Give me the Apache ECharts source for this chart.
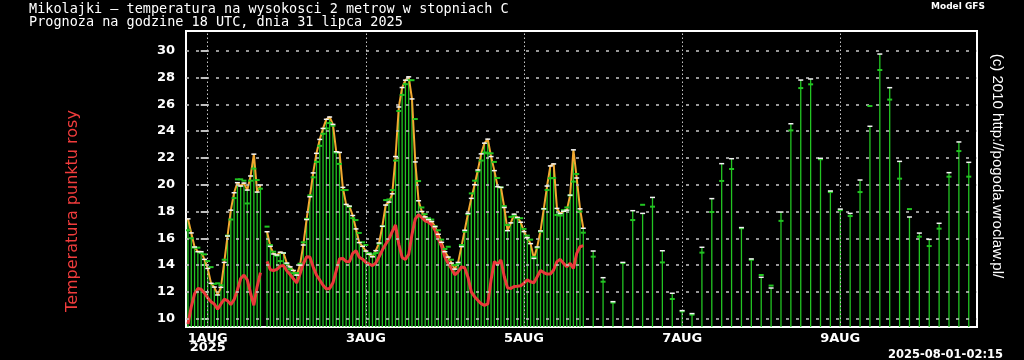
<!DOCTYPE html>
<html><head><meta charset="utf-8">
<script src="https://cdn.jsdelivr.net/npm/echarts@6/dist/echarts.min.js"></script>
<style>html,body{margin:0;padding:0;background:#000}#c{width:1024px;height:360px}</style>
</head><body><div id="c"></div><script>
// hours relative to 1 Aug 2025 00 UTC
const hourStart = -6; // first hourly step (31 Jul 18 UTC)
const tempHourly = [17.45,16.4,15.35,15.0,15.0,14.43,13.75,12.64,12.36,11.77,12.34,14.2,16.17,18.1,19.4,20.15,19.9,20.12,19.6,20.65,22.28,19.45,19.98,null,16.49,15.4,14.83,14.75,14.96,14.9,14.15,13.87,13.6,13.25,14.0,15.5,17.4,19.1,20.88,22.34,23.38,24.2,24.88,25.05,24.5,22.46,22.41,19.8,18.53,18.4,17.7,16.7,15.68,15.4,15.05,14.82,14.62,15.08,15.65,16.9,18.48,18.7,19.32,22.1,25.8,27.25,27.8,28.05,26.4,21.7,18.8,18.0,17.6,17.4,17.25,16.87,16.3,15.7,15.0,14.6,14.15,13.7,14.2,15.38,16.6,17.85,18.98,20.0,21.1,22.3,23.1,23.4,22.1,21.05,19.85,19.8,18.3,16.57,17.15,17.8,17.56,17.2,16.5,16.05,15.6,14.5,15.35,16.55,18.2,19.9,21.4,21.55,18.23,17.85,18.02,18.1,19.22,22.6,20.5,18.2,16.75];
const prevHourly = [16.6,16.0,15.3,15.3,14.9,14.8,14.3,13.85,12.6,12.64,12.5,14.4,16.2,17.4,19.0,20.4,20.4,20.3,18.6,20.3,21.2,20.35,19.7,null,16.87,15.5,15.0,14.7,14.3,14.9,14.1,13.7,13.4,13.4,14.1,15.7,17.45,19.2,20.55,21.7,22.9,23.8,24.2,24.6,24.4,22.4,21.55,19.6,19.6,18.36,17.5,17.36,16.4,15.7,15.5,14.9,14.8,14.9,15.6,16.9,18.85,18.9,19.6,21.8,25.5,26.7,27.5,27.8,27.8,24.9,20.27,18.3,17.8,17.5,17.4,16.9,16.6,15.9,15.2,15.37,14.4,14.0,14.1,15.5,16.5,17.8,19.35,20.3,21.0,21.8,22.4,22.34,22.34,21.7,20.5,19.8,18.4,17.0,17.6,17.7,17.5,17.5,16.7,16.2,15.9,14.6,15.3,16.5,18.2,19.6,20.48,20.5,17.74,17.7,18.1,18.3,19.2,20.23,20.8,18.0,16.42];
const dewHourly = [9.6,10.9,11.85,12.25,12.2,11.92,11.55,11.27,11.1,10.7,11.1,11.45,11.35,11.05,11.42,12.14,13.0,13.26,12.9,11.9,11.0,12.4,13.44,null,14.28,13.65,13.6,13.68,13.92,13.98,13.58,13.3,12.98,12.67,13.33,14.1,14.62,14.6,13.87,13.26,12.89,12.5,12.22,12.25,12.68,13.58,14.48,14.5,14.27,14.25,14.88,15.08,14.58,14.44,14.2,14.08,13.96,14.15,14.62,15.12,15.55,15.95,16.5,17.0,15.55,14.57,14.42,14.8,16.3,17.45,17.76,17.55,17.3,17.2,17.0,16.6,15.95,15.4,14.6,14.12,13.73,13.27,13.5,13.87,13.8,13.1,12.0,11.64,11.37,11.12,11.0,11.1,12.9,14.26,14.05,14.38,13.15,12.3,12.26,12.4,12.42,12.46,12.66,12.9,12.76,12.68,13.13,13.6,13.44,13.33,13.33,13.63,14.26,14.43,14.13,13.88,14.13,13.76,14.88,15.37,15.45];
const hours3 = [117,120,123,126,129,132,135,138,141,144,147,150,153,156,159,162,165,168,171,174,177,180,183,186,189,192,195,198,201,204,207,210,213,216,219,222,225,228,231];
const temp3 = [15.05,13.06,11.27,14.2,18.06,17.86,19.05,15.07,11.9,10.6,10.38,15.33,18.96,21.57,21.94,16.8,14.46,13.09,12.29,17.96,24.55,27.81,27.89,21.97,19.53,18.18,17.86,20.35,24.36,29.75,27.24,21.74,17.59,16.39,15.92,17.12,20.9,23.19,21.67];
const prev3 = [14.63,12.76,11.2,14.15,17.36,18.5,18.36,14.2,11.47,10.55,10.3,14.93,17.96,20.28,21.17,16.75,14.4,13.26,12.47,17.3,24.05,27.21,27.49,21.9,19.45,18.1,17.66,19.45,25.87,28.56,26.35,20.45,18.18,16.12,15.42,16.72,20.6,22.51,20.6];
const yTicks = [10,12,14,16,18,20,22,24,26,28,30];
const dayTicks = [0,48,96,144,192];
const dayLabels = ['1AUG\n2025','3AUG','5AUG','7AUG','9AUG'];

const Y_MIN = 9.38, Y_MAX = 31.47;
const tempLine = tempHourly.map((v,i)=>[hourStart+i, v==null?'-':v]);
const dewLine = dewHourly.map((v,i)=>[hourStart+i, v==null?'-':v]);
const allT = tempLine.filter(d=>d[1]!=='-').concat(hours3.map((h,i)=>[h,temp3[i]]));
const prevPts = prevHourly.map((v,i)=>[hourStart+i,v]).filter(d=>d[1]!=null)
  .concat(hours3.map((h,i)=>[h,prev3[i]]));

const chart = echarts.init(document.getElementById('c'), null, {renderer:'canvas'});
chart.setOption({
  backgroundColor:'#000',
  animation:false,
  grid:{left:186,right:47,top:31,bottom:33,show:true,borderColor:'#fff',borderWidth:2,backgroundColor:'transparent'},
  xAxis:{type:'value',min:-6.6,max:233.5,
    axisLine:{show:false},splitLine:{show:false},
    axisTick:{show:false},
    axisLabel:{customValues:dayTicks,color:'#fff',fontFamily:'DejaVu Sans',fontWeight:'bold',fontSize:13,lineHeight:9,margin:7,
      formatter:(v)=>{const i=dayTicks.indexOf(v);return i>=0?dayLabels[i]:'';}}},
  yAxis:{type:'value',min:Y_MIN,max:Y_MAX,
    axisLine:{show:false},splitLine:{show:false},
    axisTick:{show:true,customValues:yTicks,length:7,lineStyle:{color:'#fff',width:1.5}},
    axisLabel:{customValues:yTicks,color:'#fff',fontFamily:'DejaVu Sans',fontWeight:'bold',fontSize:13,margin:11}},
  graphic:[
    {type:'text',left:29,top:2,style:{text:'Mikolajki \u2014 temperatura na wysokosci 2 metrow w stopniach C\nPrognoza na godzine 18 UTC, dnia 31 lipca 2025',fill:'#fff',font:'13.5px "DejaVu Sans Mono"',lineHeight:13}},
    {type:'text',left:931,top:2,style:{text:'Model GFS',fill:'#fff',font:'bold 9px "DejaVu Sans"'}},
    {type:'text',right:21,top:349,style:{text:'2025-08-01-02:15',fill:'#fff',font:'bold 11.5px "DejaVu Sans"'}},
    {type:'text',x:73,y:211,rotation:Math.PI/2,style:{text:'Temperatura punktu rosy',fill:'#f03c3c',font:'16px "DejaVu Sans"',align:'center',verticalAlign:'middle'}},
    {type:'text',x:997,y:166,rotation:-Math.PI/2,style:{text:'(c) 2010 http://pogoda.wroclaw.pl/',fill:'#fff',font:'15px "Liberation Sans"',align:'center',verticalAlign:'middle'}}
  ],
  series:[
    {type:'custom',name:'bars',z:1,clip:true,data:allT,encode:{x:0,y:1},
      renderItem:(p,api)=>{const b=api.coord([api.value(0),Y_MIN]);const t=api.coord([api.value(0),api.value(1)]);
        return {type:'line',shape:{x1:b[0],y1:b[1],x2:t[0],y2:t[1]},style:{stroke:'#22c522',lineWidth:1.3}};},
      markLine:{silent:true,symbol:['none','none'],label:{show:false},
        data:yTicks.map(v=>({yAxis:v,lineStyle:{color:'#c8c8c8',type:[3,7],width:1.5}}))
          .concat(dayTicks.map(v=>({xAxis:v,lineStyle:{color:'#c8c8c8',type:[1.5,2.5],width:1}})))}},
    {type:'line',name:'temp',z:3,data:tempLine,showSymbol:false,connectNulls:false,lineStyle:{color:'#f2a830',width:2},itemStyle:{color:'#f2a830'}},
    {type:'line',name:'dew',z:4,data:dewLine,showSymbol:false,connectNulls:false,lineStyle:{color:'#ea3a3a',width:3},itemStyle:{color:'#ea3a3a'}},
    {type:'custom',name:'prev',z:5,clip:true,data:prevPts,encode:{x:0,y:1},
      renderItem:(p,api)=>{const t=api.coord([api.value(0),api.value(1)]);
        return {type:'rect',shape:{x:t[0]-2.5,y:t[1]-1,width:5,height:2},style:{fill:'#22c522'}};}},
    {type:'custom',name:'caps',z:6,clip:true,data:allT,encode:{x:0,y:1},
      renderItem:(p,api)=>{const t=api.coord([api.value(0),api.value(1)]);
        return {type:'rect',shape:{x:t[0]-2.5,y:t[1]-0.75,width:5,height:1.5},style:{fill:'#f4f4f4'}};}}
  ]
});
</script></body></html>
